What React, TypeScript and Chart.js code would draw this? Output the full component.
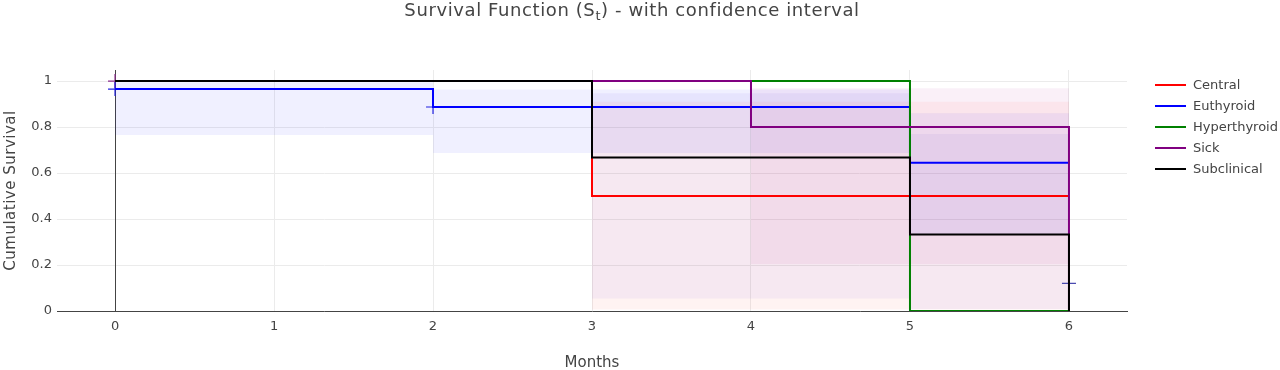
import React, { useEffect, useRef } from "react";
import { Chart, registerables } from "chart.js";

Chart.register(...registerables);

const FONT = '"DejaVu Sans", Verdana, sans-serif';

// Series names and colours
const seriesNames = ["Central", "Euthyroid", "Hyperthyroid", "Sick", "Subclinical"];
const seriesColors = ["#ff0000", "#0000ff", "#008000", "#800080", "#000000"];
const bandColors = [
  "rgba(255,70,60,0.065)",
  "rgba(0,0,255,0.06)",
  "rgba(0,128,0,0.08)",
  "rgba(180,40,150,0.07)",
  "rgba(110,80,220,0.065)",
];

// Kaplan-Meier step data (time in months, survival)
const centralT = [0, 3, 6];
const centralS = [1, 0.5, 0.5];
const euthT = [0, 2, 5, 6];
const euthS = [0.965, 0.887, 0.645, 0.645];
const hyperT = [0, 5, 6];
const hyperS = [1, 0, 0];
const sickT = [0, 4, 6, 6];
const sickS = [1, 0.8, 0.8, 0];
const subT = [0, 3, 5, 6];
const subS = [1, 0.667, 0.333, 0];

// Confidence intervals
const centralCiT = [3, 6];
const centralLo = [0.006, 0.006];
const centralHi = [0.91, 0.91];
const euthCiT = [0, 2, 5, 6];
const euthLo = [0.765, 0.687, 0.33, 0.33];
const euthHi = [0.995, 0.963, 0.86, 0.86];
const sickCiT = [4, 6];
const sickLo = [0.204, 0.204];
const sickHi = [0.969, 0.969];
const subCiT = [3, 5, 6];
const subLo = [0.054, 0.009, 0.009];
const subHi = [0.947, 0.77, 0.77];

// Censor markers
const censorT = [0, 0, 2, 6];
const censorS = [1, 0.965, 0.887, 0.12];
const censorColors = ["#8a2a8a", "#2020e0", "#2020e0", "#4a4ab0"];

// Axes
const xTicks = [0, 1, 2, 3, 4, 5, 6];
const yTicks = [0, 0.2, 0.4, 0.6, 0.8, 1];
const xMin = -0.365;
const xMax = 6.365;
const yMin = 0;
const yMax = 1.048;

const titleMain = "Survival Function (S";
const titleSub = "t";
const titleRest = ") - with confidence interval";
const xTitle = "Months";
const yTitle = "Cumulative Survival";

const pts = (t: number[], s: number[]) => t.map((x, i) => ({ x, y: s[i] }));

const zeroLinePlugin = {
  id: "zeroLine",
  beforeDatasetsDraw(chart: any) {
    const ctx = chart.ctx as CanvasRenderingContext2D;
    const area = chart.chartArea;
    const px = Math.round(chart.scales.x.getPixelForValue(0)) + 0.5;
    ctx.save();
    ctx.strokeStyle = "#444";
    ctx.lineWidth = 1;
    ctx.beginPath();
    ctx.moveTo(px, area.top);
    ctx.lineTo(px, area.bottom);
    ctx.stroke();
    ctx.restore();
  },
};

const textPlugin = {
  id: "textPlugin",
  afterDraw(chart: any) {
    const ctx = chart.ctx as any;
    const area = chart.chartArea;
    ctx.save();
    ctx.fillStyle = "#444";
    ctx.textAlign = "left";
    ctx.textBaseline = "alphabetic";
    // Title
    ctx.letterSpacing = "0.6px";
    ctx.font = `18px ${FONT}`;
    const w1 = ctx.measureText(titleMain).width;
    const w3 = ctx.measureText(titleRest).width;
    ctx.font = `13px ${FONT}`;
    const w2 = ctx.measureText(titleSub).width;
    let x = 632 - (w1 + w2 + w3) / 2;
    const ty = 16;
    ctx.font = `18px ${FONT}`;
    ctx.fillText(titleMain, x, ty);
    x += w1;
    ctx.font = `13px ${FONT}`;
    ctx.fillText(titleSub, x, ty + 4);
    x += w2;
    ctx.font = `18px ${FONT}`;
    ctx.fillText(titleRest, x, ty);
    ctx.letterSpacing = "0px";

    // X title
    ctx.font = `15px ${FONT}`;
    ctx.textAlign = "center";
    ctx.fillText(xTitle, (area.left + area.right) / 2, 367);

    // Y title
    ctx.save();
    ctx.translate(15, (area.top + area.bottom) / 2);
    ctx.rotate(-Math.PI / 2);
    ctx.letterSpacing = "0.5px";
    ctx.fillText(yTitle, 0, 0);
    ctx.letterSpacing = "0px";
    ctx.restore();

    // Legend
    ctx.font = `13px ${FONT}`;
    ctx.textAlign = "left";
    ctx.textBaseline = "middle";
    seriesNames.forEach((name, i) => {
      const y = 85 + i * 21;
      ctx.strokeStyle = seriesColors[i];
      ctx.lineWidth = 2;
      ctx.beginPath();
      ctx.moveTo(1155, y);
      ctx.lineTo(1186, y);
      ctx.stroke();
      ctx.fillStyle = "#444";
      ctx.fillText(name, 1193, y + 1);
    });
    ctx.restore();
  },
};

export default function App() {
  const ref = useRef<HTMLCanvasElement | null>(null);

  useEffect(() => {
    if (!ref.current) return;
    const lineTs = [centralT, euthT, hyperT, sickT, subT];
    const lineSs = [centralS, euthS, hyperS, sickS, subS];
    const lineSets = seriesNames.map((name, i) => ({
      label: name,
      data: pts(lineTs[i], lineSs[i]),
      borderColor: seriesColors[i],
      backgroundColor: seriesColors[i],
      borderWidth: 2,
      stepped: "before" as const,
      pointRadius: 0,
      fill: false,
      order: 4 - i,
    }));

    const bands: [number, number[], number[], number[]][] = [
      [0, centralCiT, centralLo, centralHi],
      [1, euthCiT, euthLo, euthHi],
      [3, sickCiT, sickLo, sickHi],
      [4, subCiT, subLo, subHi],
    ];
    const bandSets: any[] = [];
    bands.forEach(([si, t, lo, hi]) => {
      bandSets.push({
        label: seriesNames[si] + " upper",
        data: pts(t, hi),
        borderWidth: 0,
        borderColor: "rgba(0,0,0,0)",
        backgroundColor: bandColors[si],
        stepped: "before" as const,
        pointRadius: 0,
        fill: "+1",
        order: 20,
      });
      bandSets.push({
        label: seriesNames[si] + " lower",
        data: pts(t, lo),
        borderWidth: 0,
        borderColor: "rgba(0,0,0,0)",
        backgroundColor: "rgba(0,0,0,0)",
        stepped: "before" as const,
        pointRadius: 0,
        fill: false,
        order: 20,
      });
    });

    const censorSet = {
      label: "censored",
      data: pts(censorT, censorS),
      showLine: false,
      pointStyle: "cross" as const,
      pointRadius: 7,
      pointBorderWidth: 1.2,
      pointBorderColor: censorColors,
      pointBackgroundColor: censorColors,
      borderColor: censorColors,
      order: 10,
    };

    const chart = new Chart(ref.current, {
      type: "line",
      data: { datasets: [...lineSets, ...bandSets, censorSet] as any },
      plugins: [zeroLinePlugin, textPlugin],
      options: {
        animation: false,
        responsive: false,
        layout: { padding: { top: 70, right: 153, left: 0, bottom: 0 } },
        plugins: {
          legend: { display: false },
          title: { display: false },
          tooltip: { enabled: false },
        },
        elements: { line: { tension: 0 } },
        scales: {
          x: {
            type: "linear",
            min: xMin,
            max: xMax,
            afterBuildTicks: (s: any) => {
              s.ticks = xTicks.map((v) => ({ value: v }));
            },
            afterFit: (s: any) => {
              s.height = 59;
            },
            grid: {
              color: (c: any) => (c.tick && c.tick.value === 0 ? "rgba(0,0,0,0)" : "#ebebeb"),
              lineWidth: 1,
              drawTicks: false,
            },
            border: { display: true, color: "#444", width: 1 },
            ticks: {
              padding: 8,
              color: "#444",
              font: { family: FONT, size: 13 },
              callback: (v: any) => String(v),
            },
          },
          y: {
            type: "linear",
            min: yMin,
            max: yMax,
            afterBuildTicks: (s: any) => {
              s.ticks = yTicks.map((v) => ({ value: v }));
            },
            afterFit: (s: any) => {
              s.width = 57;
            },
            grid: {
              color: (c: any) => (c.tick && c.tick.value === 0 ? "rgba(0,0,0,0)" : "#ebebeb"),
              lineWidth: 1,
              drawTicks: false,
            },
            border: { display: false },
            ticks: {
              padding: 5,
              color: "#444",
              font: { family: FONT, size: 13 },
              callback: (v: any) => String(v),
            },
          },
        },
      },
    });
    return () => chart.destroy();
  }, []);

  return (
    <canvas
      ref={ref}
      width={1280}
      height={370}
      style={{ position: "absolute", left: 0, top: 0, width: 1280, height: 370, display: "block" }}
    />
  );
}
